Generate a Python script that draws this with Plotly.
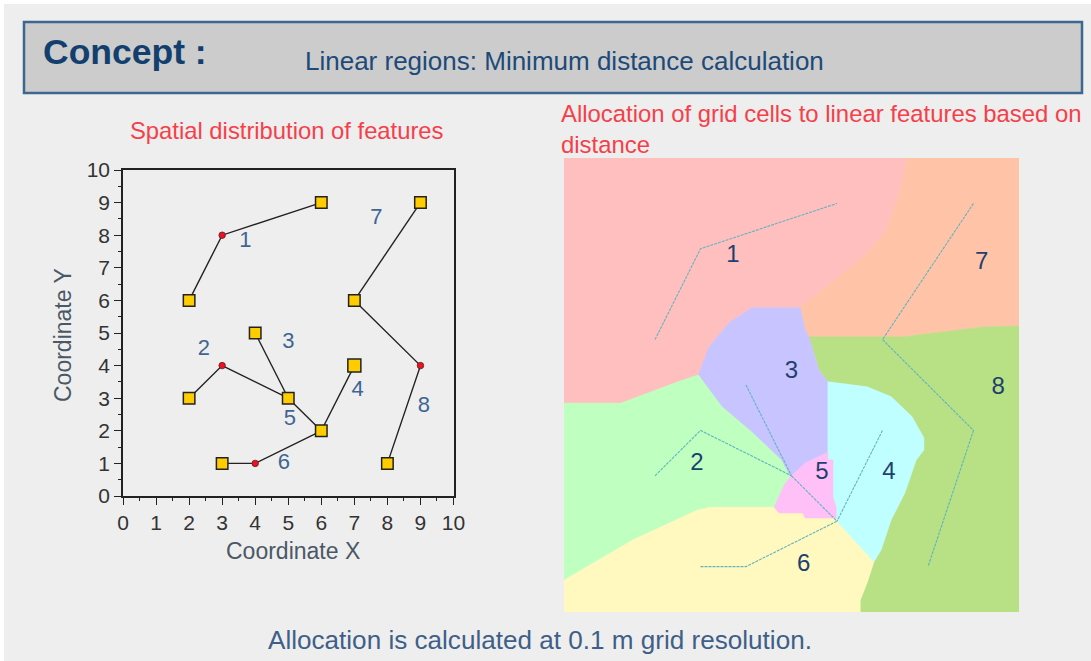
import plotly.graph_objects as go

W, H = 1091, 661
FONT = "Liberation Sans, Arial, sans-serif"

# ---- data (map coordinates, metres) ----
feature_names = ["1", "2", "3", "4", "5", "6", "7", "8"]
feature_x = [[2, 3, 6], [2, 3, 5], [4, 5], [7, 6], [5, 6], [3, 4, 6], [9, 7], [7, 9, 8]]
feature_y = [[6, 8, 9], [3, 4, 3], [5, 3], [4, 2], [3, 2], [1, 1, 2], [9, 6], [6, 4, 1]]
end_x = [2, 6, 9, 7, 4, 5, 2, 6, 3, 8]
end_y = [6, 9, 9, 6, 5, 3, 3, 2, 1, 1]
big_end_x = [7]
big_end_y = [4]
joint_x = [3, 3, 4, 9]
joint_y = [8, 4, 1, 4]
left_label_x = [3.7, 2.45, 5.0, 7.1, 5.05, 4.87, 7.67, 9.1]
left_label_y = [7.8, 4.5, 4.7, 3.25, 2.35, 1.0, 8.5, 2.75]
right_label_x = [3.71, 2.92, 5.0, 7.14, 5.67, 5.27, 9.18, 9.54]
right_label_y = [7.84, 3.26, 5.28, 3.06, 3.06, 1.04, 7.69, 4.93]
ticks = list(range(0, 11))

region1_x = [0, 7.54, 7.43, 7.32, 7.08, 6.66, 6.22, 5.67, 5.19, 4.13, 3.63, 3.19, 2.95, 2.51, 1.25, 0]
region1_y = [10, 10, 9.45, 9.07, 8.41, 7.91, 7.53, 7.09, 6.70, 6.70, 6.37, 5.84, 5.22, 5.07, 4.60, 4.60]
region7_x = [7.54, 10, 10, 9.23, 8.33, 7.43, 5.38, 5.30, 5.19, 5.67, 6.22, 6.66, 7.08, 7.32, 7.43]
region7_y = [10, 10, 6.30, 6.28, 6.17, 6.06, 6.06, 6.21, 6.70, 7.09, 7.53, 7.91, 8.41, 9.07, 9.45]
region8_x = [5.38, 7.43, 8.33, 9.23, 10, 10, 6.51, 6.51, 6.66, 6.81, 6.97, 7.19, 7.49, 7.74, 7.91, 7.91, 7.65, 7.19, 6.66, 5.80, 5.60, 5.52]
region8_y = [6.06, 6.06, 6.17, 6.28, 6.30, 0, 0, 0.26, 0.64, 1.10, 1.37, 2.03, 2.62, 3.35, 3.57, 3.83, 4.30, 4.74, 4.96, 5.07, 5.33, 5.62]
region3_x = [5.19, 5.30, 5.38, 5.52, 5.60, 5.80, 5.80, 5.30, 4.97, 4.77, 4.15, 3.47, 2.95, 3.19, 3.63, 4.13]
region3_y = [6.70, 6.21, 6.06, 5.62, 5.33, 5.07, 3.52, 3.28, 2.97, 3.35, 3.94, 4.52, 5.22, 5.84, 6.37, 6.70]
region5_x = [4.97, 5.30, 5.80, 5.80, 5.91, 5.91, 5.98, 5.98, 5.30, 5.25, 4.73, 4.62, 4.84]
region5_y = [2.97, 3.28, 3.52, 3.35, 3.35, 2.53, 2.31, 2.07, 2.07, 2.18, 2.18, 2.31, 2.80]
region4_x = [5.80, 6.66, 7.19, 7.65, 7.91, 7.91, 7.74, 7.49, 7.19, 6.97, 6.81, 6.02, 5.98, 5.98, 5.91, 5.91, 5.80, 5.80]
region4_y = [5.07, 4.96, 4.74, 4.30, 3.83, 3.57, 3.35, 2.62, 2.03, 1.37, 1.10, 1.96, 2.07, 2.31, 2.53, 3.35, 3.35, 3.52]
region6_x = [0, 1.52, 2.95, 3.21, 4.62, 4.73, 5.25, 5.30, 5.98, 6.02, 6.81, 6.66, 6.51, 6.51, 0]
region6_y = [0.70, 1.59, 2.25, 2.31, 2.31, 2.18, 2.18, 2.07, 2.07, 1.96, 1.10, 0.64, 0.26, 0, 0]
region2_x = [0, 1.25, 2.51, 2.95, 3.47, 4.15, 4.77, 4.97, 4.84, 4.62, 3.21, 2.95, 1.52, 0]
region2_y = [4.60, 4.60, 5.07, 5.22, 4.52, 3.94, 3.35, 2.97, 2.80, 2.31, 2.31, 2.25, 1.59, 0.70]

regions = [
    (region1_x, region1_y, "#ffbfbf"),
    (region7_x, region7_y, "#ffc4a8"),
    (region8_x, region8_y, "#b8e084"),
    (region3_x, region3_y, "#c8c4ff"),
    (region2_x, region2_y, "#bfffbf"),
    (region4_x, region4_y, "#bfffff"),
    (region6_x, region6_y, "#fff8bf"),
    (region5_x, region5_y, "#ffbff7"),
]

fig = go.Figure()

# ---- left panel ----
for fx, fy in zip(feature_x, feature_y):
    fig.add_trace(go.Scatter(x=fx, y=fy, mode="lines", xaxis="x", yaxis="y",
                             line=dict(color="#222222", width=1.4), showlegend=False))
fig.add_trace(go.Scatter(x=end_x, y=end_y, mode="markers", xaxis="x", yaxis="y", showlegend=False,
                         marker=dict(symbol="square", size=11.5, color="#ffcc00",
                                     line=dict(color="#222222", width=1.5))))
fig.add_trace(go.Scatter(x=big_end_x, y=big_end_y, mode="markers", xaxis="x", yaxis="y", showlegend=False,
                         marker=dict(symbol="square", size=13, color="#ffcc00",
                                     line=dict(color="#222222", width=1.5))))
fig.add_trace(go.Scatter(x=joint_x, y=joint_y, mode="markers", xaxis="x", yaxis="y", showlegend=False,
                         marker=dict(symbol="circle", size=6.5, color="#ee1122",
                                     line=dict(color="#552222", width=0.8))))
fig.add_trace(go.Scatter(x=left_label_x, y=left_label_y, text=feature_names, mode="text",
                         xaxis="x", yaxis="y", showlegend=False, cliponaxis=False,
                         textfont=dict(family=FONT, size=22, color="#3f6593")))

# ---- right panel ----
for rx, ry, col in regions:
    fig.add_trace(go.Scatter(x=rx + rx[:1], y=ry + ry[:1], mode="lines", fill="toself", fillcolor=col,
                             xaxis="x2", yaxis="y2", showlegend=False,
                             line=dict(color=col, width=0.6)))
for fx, fy in zip(feature_x, feature_y):
    fig.add_trace(go.Scatter(x=fx, y=fy, mode="lines", xaxis="x2", yaxis="y2", showlegend=False,
                             line=dict(color="#62b4c0", width=1.1, dash="3px,1px")))
fig.add_trace(go.Scatter(x=right_label_x, y=right_label_y, text=feature_names, mode="text",
                         xaxis="x2", yaxis="y2", showlegend=False, cliponaxis=False,
                         textfont=dict(family=FONT, size=24, color="#1f3f6f")))


def ptxt(text, x, y, size, color, anchor="left", bold=False):
    return dict(text=f"<b>{text}</b>" if bold else text, x=x / W, y=1 - y / H, xref="paper", yref="paper",
                xanchor=anchor, yanchor="middle", showarrow=False,
                font=dict(family=FONT, size=size, color=color))


axis_common = dict(range=[0, 10], tickvals=ticks, ticks="outside", ticklen=7, tickwidth=1.3,
                   tickcolor="#222222", showgrid=False, zeroline=False, showline=True, mirror=True,
                   linecolor="#222222", linewidth=1.6, automargin=False,
                   tickfont=dict(family=FONT, size=21, color="#333333"),
                   minor=dict(dtick=0.5, ticks="outside", ticklen=3, tickwidth=1, tickcolor="#222222"))

fig.update_layout(
    template="none",
    width=W, height=H, autosize=False,
    margin=dict(l=0, r=0, t=0, b=0, pad=0, autoexpand=False),
    paper_bgcolor="#ffffff", plot_bgcolor="rgba(0,0,0,0)",
    showlegend=False,
    xaxis=dict(domain=[123 / W, 453.5 / W], anchor="y", **axis_common),
    yaxis=dict(domain=[1 - 496 / H, 1 - 170 / H], anchor="x", **axis_common),
    xaxis2=dict(domain=[564 / W, 1019 / W], anchor="y2", range=[0, 10], visible=False, automargin=False),
    yaxis2=dict(domain=[1 - 612 / H, 1 - 158 / H], anchor="x2", range=[0, 10], visible=False, automargin=False),
    shapes=[
        dict(type="rect", xref="paper", yref="paper", layer="below", x0=4 / W, x1=1, y0=0, y1=1 - 4 / H,
             fillcolor="#eeeeee", line=dict(width=0)),
        dict(type="rect", xref="paper", yref="paper", layer="below", x0=24 / W, x1=1082 / W,
             y0=1 - 93 / H, y1=1 - 22 / H, fillcolor="#cccccc", line=dict(color="#3d6690", width=2.5)),
    ],
    annotations=[
        ptxt("Concept :", 41, 52, 35.5, "#123f6e", bold=True),
        ptxt("Linear regions: Minimum distance calculation", 303, 61, 26, "#1d4a78"),
        ptxt("Spatial distribution of features", 128, 130, 23.8, "#f5404a"),
        ptxt("Allocation of grid cells to linear features based on", 559, 113, 23.9, "#f5404a"),
        ptxt("distance", 559, 144, 23.9, "#f5404a"),
        ptxt("Coordinate X", 293, 551, 23, "#4a5866", anchor="center"),
        dict(text="Coordinate Y", x=63 / W, y=1 - 335 / H, xref="paper", yref="paper", textangle=-90,
             xanchor="center", yanchor="middle", showarrow=False,
             font=dict(family=FONT, size=23, color="#4a5866")),
        ptxt("Allocation is calculated at 0.1 m grid resolution.", 266, 640, 26.1, "#3e6088"),
    ],
)

fig.write_html("out.html", config=dict(displayModeBar=False),
               post_script="document.body.style.margin='0';document.documentElement.style.overflow='hidden';")
